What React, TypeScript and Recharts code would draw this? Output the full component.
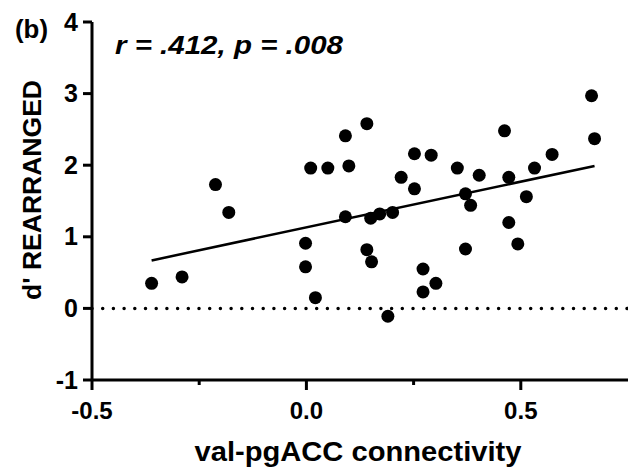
import React from "react";
import { ScatterChart, Scatter, XAxis, YAxis, ReferenceLine } from "recharts";

// connectivity (x) and d' rearranged (y) per participant
const connectivity = [
  -0.361, -0.29, -0.212, -0.181, -0.002, -0.002, 0.01, 0.021, 0.05, 0.099,
  0.091, 0.141, 0.091, 0.15, 0.171, 0.201, 0.221, 0.252, 0.291, 0.252,
  0.352, 0.371, 0.383, 0.141, 0.152, 0.272, 0.302, 0.272, 0.19, 0.665,
  0.672, 0.462, 0.573, 0.532, 0.403, 0.472, 0.513, 0.472, 0.493, 0.371,
];
const dPrime = [
  0.35, 0.44, 1.73, 1.34, 0.91, 0.58, 1.96, 0.15, 1.96, 1.99,
  2.41, 2.58, 1.28, 1.26, 1.32, 1.34, 1.83, 2.16, 2.14, 1.67,
  1.96, 1.6, 1.44, 0.82, 0.65, 0.55, 0.35, 0.23, -0.11, 2.97,
  2.37, 2.48, 2.15, 1.96, 1.86, 1.83, 1.56, 1.2, 0.9, 0.83,
];

// regression line end points
const fitX = [-0.361, 0.672];
const fitY = [0.67, 1.99];

const xTicks = [-0.5, -0.25, 0, 0.25, 0.5];
const xLabels: Record<string, string> = { "-0.5": "-0.5", "0": "0.0", "0.5": "0.5" };
const yTicks = [-1, 0, 1, 2, 3, 4];

const FONT = "'Liberation Sans', Arial, Helvetica, sans-serif";

const points = connectivity.map((x, i) => ({ x, y: dPrime[i] }));
const fitSegment = fitX.map((x, i) => ({ x, y: fitY[i] }));

const XTick = ({ x, y, payload }: any) => {
  const label = xLabels[String(payload.value)];
  return (
    <g>
      <line x1={x} x2={x} y1={y} y2={y + (label ? 10 : 5)} stroke="#000" strokeWidth={3} />
      {label && (
        <text x={x} y={y + 39} textAnchor="middle" fontFamily={FONT} fontWeight="bold" fontSize={24} fill="#000">
          {label}
        </text>
      )}
    </g>
  );
};

const YTick = ({ x, y, payload }: any) => (
  <text x={x} y={y} dy={8.5} textAnchor="end" fontFamily={FONT} fontWeight="bold" fontSize={25} fill="#000">
    {payload.value}
  </text>
);

const Dot = (props: any) => <circle cx={props.cx} cy={props.cy} r={6.5} fill="#000" />;

export default function App() {
  return (
    <div style={{ position: "absolute", left: 0, top: 0, width: 628, height: 467, background: "#fff" }}>
      <ScatterChart width={628} height={467} margin={{ top: 22, right: 0, bottom: 0, left: 0 }}>
        <XAxis
          type="number"
          dataKey="x"
          domain={[-0.5, 0.75]}
          ticks={xTicks}
          allowDataOverflow
          height={87}
          axisLine={{ stroke: "#000", strokeWidth: 3 }}
          tickLine={false}
          tickSize={0}
          tickMargin={0}
          tick={<XTick />}
        />
        <YAxis
          type="number"
          dataKey="y"
          domain={[-1, 4]}
          ticks={yTicks}
          allowDataOverflow
          width={92}
          axisLine={{ stroke: "#000", strokeWidth: 3 }}
          tickLine={{ stroke: "#000", strokeWidth: 3 }}
          tickSize={9}
          tickMargin={5}
          tick={<YTick />}
        />
        <ReferenceLine y={0} stroke="#000" strokeWidth={3.5} strokeDasharray="0 10.7" strokeLinecap="round" />
        <ReferenceLine segment={fitSegment} stroke="#000" strokeWidth={2.5} />
        <Scatter data={points} shape={<Dot />} isAnimationActive={false} />
      </ScatterChart>
      <svg width={628} height={467} style={{ position: "absolute", left: 0, top: 0, pointerEvents: "none" }}>
        <text x={15} y={38} fontFamily={FONT} fontWeight="bold" fontSize={25} fill="#000" textLength={33} lengthAdjust="spacingAndGlyphs">(b)</text>
        <text x={115} y={54} fontFamily={FONT} fontWeight="bold" fontStyle="italic" fontSize={26} fill="#000" textLength={228} lengthAdjust="spacingAndGlyphs">
          r = .412, p = .008
        </text>
        <text x={358} y={461} textAnchor="middle" fontFamily={FONT} fontWeight="bold" fontSize={27} fill="#000" textLength={327} lengthAdjust="spacingAndGlyphs">
          val-pgACC connectivity
        </text>
        <text x={0} y={0} transform="translate(41,190) rotate(-90)" textAnchor="middle" fontFamily={FONT} fontWeight="bold" fontSize={26} fill="#000" textLength={220} lengthAdjust="spacingAndGlyphs">
          d' REARRANGED
        </text>
      </svg>
    </div>
  );
}
